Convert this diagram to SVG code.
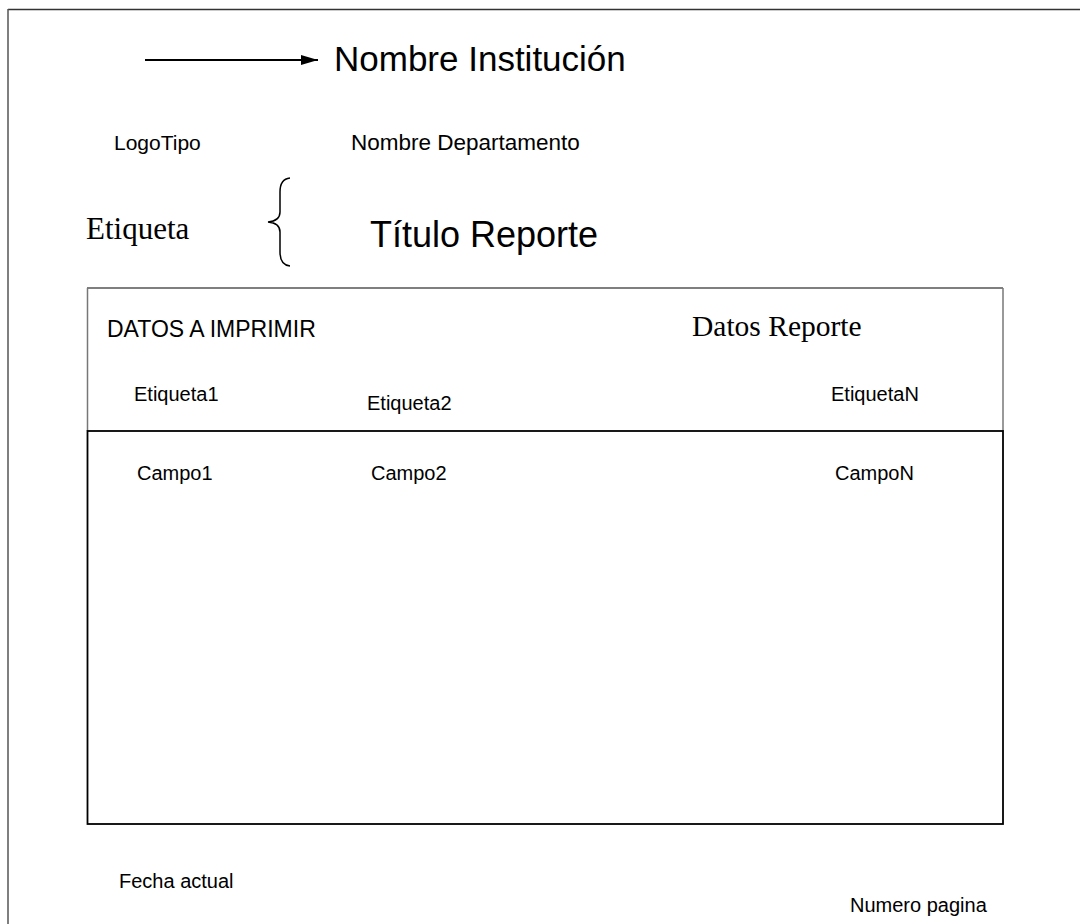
<svg xmlns="http://www.w3.org/2000/svg" width="1080" height="924" viewBox="0 0 1080 924">
<defs>
<marker id="ah" markerWidth="18" markerHeight="12" refX="17" refY="6" orient="auto" markerUnits="userSpaceOnUse">
<path d="M0,1 L17,6 L0,11 Z" fill="#000"/>
</marker>
<style>
.s{font-family:"Liberation Sans",Arial,sans-serif;fill:#000}
.t{font-family:"Liberation Serif","Times New Roman",serif;fill:#000}
</style>
</defs>
<rect width="1080" height="924" fill="#fff"/>
<g id="page">
<line x1="8" y1="9.5" x2="1080" y2="9.5" stroke="#333" stroke-width="1.5"/>
<line x1="8" y1="9" x2="8" y2="924" stroke="#555" stroke-width="1.5"/>
</g>
<g id="connectors">
<line x1="145" y1="60" x2="318" y2="60" stroke="#000" stroke-width="2.2" marker-end="url(#ah)"/>
<path d="M290,178 Q280,179 280,192 L280,212 Q280,221 268,222 Q280,223 280,232 L280,252 Q280,265 290,266" fill="none" stroke="#000" stroke-width="1.5"/>
</g>
<g id="header">
<text class="s" x="334" y="71" font-size="35">Nombre Institución</text>
<text class="s" x="114" y="150" font-size="21">LogoTipo</text>
<text class="s" x="351" y="150" font-size="22.5">Nombre Departamento</text>
<text class="t" x="86" y="239" font-size="31">Etiqueta</text>
<text class="s" x="370" y="247" font-size="36">Título Reporte</text>
</g>
<g id="box">
<line x1="87" y1="288" x2="1003" y2="288" stroke="#000" stroke-width="1.2"/>
<line x1="87.5" y1="288" x2="87.5" y2="431" stroke="#777" stroke-width="1.5"/>
<line x1="1003" y1="288" x2="1003" y2="431" stroke="#777" stroke-width="1.5"/>
<rect x="87.5" y="431" width="915.5" height="393" fill="none" stroke="#000" stroke-width="1.8"/>
<text class="s" x="107" y="337" font-size="23">DATOS A IMPRIMIR</text>
<text class="t" x="692" y="336" font-size="29.5">Datos Reporte</text>
<text class="s" x="134" y="401" font-size="20">Etiqueta1</text>
<text class="s" x="367" y="410" font-size="20">Etiqueta2</text>
<text class="s" x="831" y="401" font-size="20">EtiquetaN</text>
<text class="s" x="137" y="480" font-size="20">Campo1</text>
<text class="s" x="371" y="480" font-size="20">Campo2</text>
<text class="s" x="835" y="480" font-size="20">CampoN</text>
</g>
<g id="footer">
<text class="s" x="119" y="888" font-size="20">Fecha actual</text>
<text class="s" x="850" y="912" font-size="20">Numero pagina</text>
</g>
</svg>
